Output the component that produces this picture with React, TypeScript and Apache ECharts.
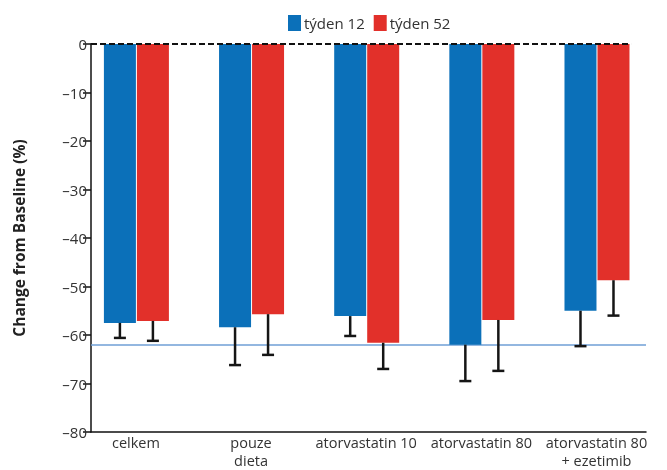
import React, { useEffect, useRef } from "react";
import * as echarts from "echarts";

const categories = ["celkem", "pouze\ndieta", "atorvastatin 10", "atorvastatin 80", "atorvastatin 80\n+ ezetimib"];
const seriesNames = ["týden 12", "týden 52"];
const week12 = [-57.5, -58.4, -56.1, -62.0, -55.0];
const week12ErrEnd = [-60.6, -66.2, -60.2, -69.5, -62.3];
const week52 = [-57.1, -55.7, -61.6, -56.9, -48.7];
const week52ErrEnd = [-61.2, -64.1, -67.0, -67.4, -56.0];
const referenceLevel = -62;
const yMin = -80;
const yMax = 0;
const yStep = 10;

const X_MIN = -0.39;
const X_MAX = 4.43;
const DASH_END = 4.3;
const FONT = "'Open Sans', 'DejaVu Sans', sans-serif";
const BLUE = "#0b70b9";
const RED = "#e2302a";

function makeRender(side: number, color: string) {
  return (_params: any, api: any) => {
    const i = api.value(0);
    const v = api.value(1);
    const e = api.value(2);
    const base = api.coord([i, 0]);
    const end = api.coord([i, v]);
    const err = api.coord([i, e]);
    const bw = 32;
    const x0 = side < 0 ? base[0] - bw : base[0] + 1;
    const cx = x0 + bw / 2;
    return {
      type: "group",
      children: [
        { type: "rect", shape: { x: x0, y: base[1], width: bw, height: end[1] - base[1] }, style: { fill: color } },
        { type: "line", shape: { x1: cx, y1: end[1], x2: cx, y2: err[1] }, style: { stroke: "#151515", lineWidth: 2.5 } },
        { type: "line", shape: { x1: cx - 6, y1: err[1], x2: cx + 6, y2: err[1] }, style: { stroke: "#151515", lineWidth: 2.5 } },
      ],
    };
  };
}

export default function App() {
  const ref = useRef<HTMLDivElement>(null);
  useEffect(() => {
    if (!ref.current) return;
    const chart = echarts.init(ref.current, undefined, { renderer: "svg" });
    const d12 = categories.map((_, i) => [i, week12[i], week12ErrEnd[i]]);
    const d52 = categories.map((_, i) => [i, week52[i], week52ErrEnd[i]]);
    chart.setOption({
      animation: false,
      textStyle: { fontFamily: FONT },
      legend: {
        data: seriesNames,
        left: 283,
        top: 10,
        icon: "rect",
        itemWidth: 13,
        itemHeight: 16,
        itemGap: 9,
        textStyle: { fontSize: 15, color: "#333", fontFamily: FONT, padding: [0, 0, 0, -2] },
      },
      grid: { left: 91, right: 21, top: 44, bottom: 38, containLabel: false, outerBoundsMode: "none" },
      xAxis: {
        type: "value",
        min: X_MIN,
        max: X_MAX,
        splitLine: { show: false },
        axisTick: { show: false },
        axisLine: { show: true, onZero: false, lineStyle: { color: "#111", width: 1.5 } },
        axisLabel: {
          customValues: categories.map((_, i) => i),
          formatter: (v: number) => categories[Math.round(v)] ?? "",
          color: "#333",
          fontSize: 14.5,
          lineHeight: 18.5,
          margin: 1,
          fontFamily: FONT,
        },
      },
      yAxis: {
        type: "value",
        min: yMin,
        max: yMax,
        interval: yStep,
        name: "Change from Baseline (%)",
        nameLocation: "middle",
        nameGap: 64,
        nameTextStyle: { fontSize: 15.5, fontWeight: "bold", color: "#222", fontFamily: FONT },
        splitLine: { show: false },
        axisLine: { show: true, onZero: false, lineStyle: { color: "#111", width: 1.5 } },
        axisTick: { show: true, length: 8, lineStyle: { color: "#111", width: 1.5 } },
        axisLabel: {
          formatter: (v: number) => String(v).replace("-", "–"),
          color: "#333",
          fontSize: 15,
          margin: 4,
          fontFamily: FONT,
        },
      },
      series: [
        {
          type: "line",
          data: [],
          z: 1,
          silent: true,
          markLine: {
            silent: true,
            z: 1,
            symbol: "none",
            label: { show: false },
            lineStyle: { color: "#6f9fd6", width: 1.5, type: "solid" },
            data: [[{ coord: [X_MIN, referenceLevel] }, { coord: [X_MAX, referenceLevel] }]],
          },
        },
        {
          name: seriesNames[0],
          type: "custom",
          z: 2,
          itemStyle: { color: BLUE },
          renderItem: makeRender(-1, BLUE),
          encode: { x: 0, y: 1 },
          data: d12,
        },
        {
          name: seriesNames[1],
          type: "custom",
          z: 2,
          itemStyle: { color: RED },
          renderItem: makeRender(1, RED),
          encode: { x: 0, y: 1 },
          data: d52,
        },
        {
          type: "line",
          data: [],
          z: 5,
          silent: true,
          markLine: {
            silent: true,
            z: 5,
            symbol: "none",
            label: { show: false },
            lineStyle: { color: "#111", width: 2, type: [6, 3] },
            data: [[{ coord: [X_MIN, 0] }, { coord: [DASH_END, 0] }]],
          },
        },
      ],
    });
    return () => chart.dispose();
  }, []);
  return <div ref={ref} style={{ position: "fixed", left: 0, top: 0, width: 667, height: 470 }} />;
}
